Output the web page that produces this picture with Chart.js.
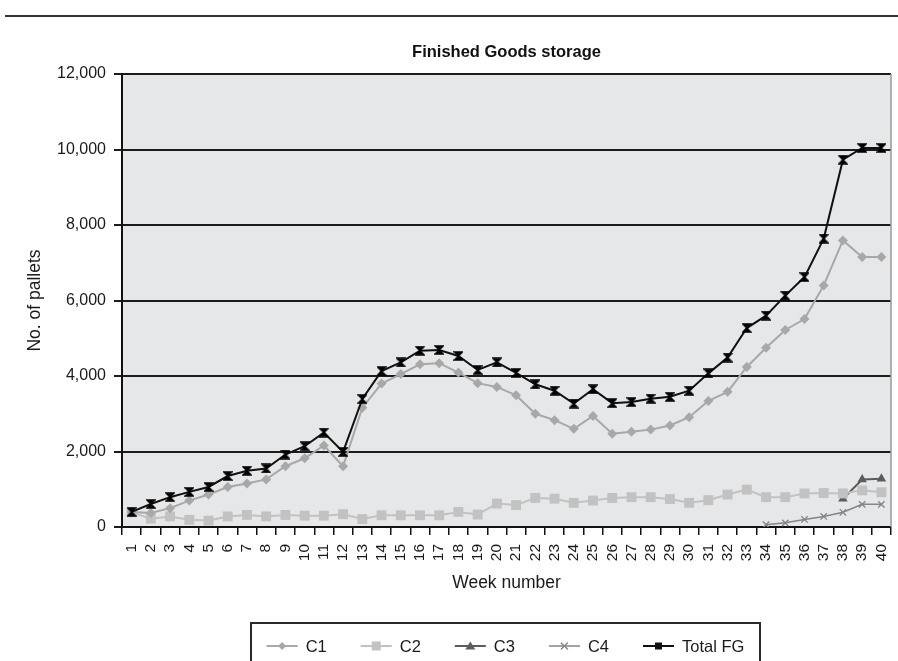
<!DOCTYPE html>
<html>
<head>
<meta charset="utf-8">
<title>Finished Goods storage</title>
<script src="https://cdn.jsdelivr.net/npm/chart.js@4/dist/chart.umd.min.js"></script>
<style>
  html, body { margin: 0; padding: 0; background: #ffffff; }
  #wrap { position: relative; width: 898px; height: 661px; overflow: hidden; }
  #rule { position: absolute; left: 5px; right: 0; top: 15px; height: 2px; background: #333333; }
  #chart { position: absolute; left: 0; top: 0; }
</style>
</head>
<body>
<div id="wrap">
  <div id="rule"></div>
  <canvas id="chart" width="898" height="661"></canvas>
</div>
<script>
// Week numbers shown on the x axis
const weeks = ['1','2','3','4','5','6','7','8','9','10','11','12','13','14','15','16','17','18','19','20',
               '21','22','23','24','25','26','27','28','29','30','31','32','33','34','35','36','37','38','39','40'];

// Pallets in storage per customer group, by week
const c1 = [400, 370, 500, 700, 860, 1060, 1150, 1260, 1610, 1820, 2160, 1610, 3160, 3800, 4050, 4310, 4340, 4090, 3810, 3710,
            3490, 3000, 2830, 2600, 2940, 2470, 2520, 2580, 2690, 2910, 3340, 3580, 4240, 4750, 5220, 5510, 6400, 7590, 7150, 7150];
const c2 = [390, 220, 280, 190, 170, 280, 320, 280, 320, 300, 300, 340, 210, 310, 310, 310, 310, 400, 330, 620,
            580, 770, 750, 640, 700, 770, 790, 790, 740, 640, 710, 860, 990, 790, 790, 890, 900, 890, 970, 920];
const c3 = [null, null, null, null, null, null, null, null, null, null, null, null, null, null, null, null, null, null, null, null,
            null, null, null, null, null, null, null, null, null, null, null, null, null, null, null, null, null, 750, 1260, 1280];
const c4 = [null, null, null, null, null, null, null, null, null, null, null, null, null, null, null, null, null, null, null, null,
            null, null, null, null, null, null, null, null, null, null, null, null, null, 60, 110, 200, 280, 390, 600, 600];
const totalFG = [400, 610, 790, 930, 1060, 1350, 1490, 1550, 1920, 2140, 2500, 1990, 3390, 4130, 4360, 4670, 4690, 4530, 4160, 4360,
                 4080, 3780, 3610, 3270, 3650, 3280, 3310, 3400, 3450, 3610, 4070, 4490, 5270, 5600, 6130, 6620, 7640, 9730, 10040, 10040];

// Y axis tick values
const yTicks = [0, 2000, 4000, 6000, 8000, 10000, 12000];

const FONT = '"Liberation Sans", Arial, Helvetica, sans-serif';

// Hourglass marker used for the Total FG line
function hourglassMarker(size) {
  const c = document.createElement('canvas');
  c.width = size; c.height = size;
  const g = c.getContext('2d');
  g.fillStyle = '#000'; g.strokeStyle = '#000'; g.lineWidth = 1.5;
  g.beginPath();
  g.moveTo(1, 1); g.lineTo(size - 1, 1); g.lineTo(1, size - 1); g.lineTo(size - 1, size - 1); g.closePath();
  g.fill(); g.stroke();
  return c;
}

const series = [
  { label: 'C1', data: c1, color: '#a8a8a8', width: 2, style: 'rectRot', radius: 5, legendMark: 'diamond', order: 1 },
  { label: 'C2', data: c2, color: '#c2c2c2', width: 2, style: 'rect', radius: 7, legendMark: 'square', order: 2 },
  { label: 'C3', data: c3, color: '#5c5c5c', width: 2, style: 'triangle', radius: 5.5, legendMark: 'triangle', order: 3 },
  { label: 'C4', data: c4, color: '#858585', width: 1.5, style: 'crossRot', radius: 4.5, legendMark: 'cross', order: 4 },
  { label: 'Total FG', data: totalFG, color: '#111111', width: 2, style: hourglassMarker(10), radius: 5, legendMark: 'blacksquare', order: 0 }
];

// Grey plotting area plus its light right-hand frame
const plotBackground = {
  id: 'plotBackground',
  beforeDraw(chart) {
    const { ctx, chartArea: a } = chart;
    ctx.save();
    ctx.fillStyle = '#e6e7e9';
    ctx.fillRect(a.left, a.top, a.right - a.left, a.bottom - a.top);
    ctx.restore();
  },
  afterDraw(chart) {
    const { ctx, chartArea: a } = chart;
    ctx.save();
    ctx.strokeStyle = '#9a9a9a';
    ctx.lineWidth = 1.5;
    ctx.beginPath();
    ctx.moveTo(a.right, a.top);
    ctx.lineTo(a.right, a.bottom);
    ctx.stroke();
    ctx.restore();
  }
};

// Chart heading centred over the plotting area
const plotTitle = {
  id: 'plotTitle',
  afterDraw(chart, args, opts) {
    const { ctx, chartArea: a } = chart;
    ctx.save();
    ctx.font = 'bold 16.5px ' + FONT;
    ctx.fillStyle = '#111';
    ctx.textAlign = 'center';
    ctx.textBaseline = 'middle';
    ctx.fillText(opts.text, (a.left + a.right) / 2, opts.y);
    ctx.restore();
  }
};

function drawLegendMark(ctx, kind, x, y, color) {
  ctx.save();
  ctx.fillStyle = color; ctx.strokeStyle = color;
  ctx.beginPath();
  if (kind === 'diamond') {
    ctx.moveTo(x, y - 4); ctx.lineTo(x + 4, y); ctx.lineTo(x, y + 4); ctx.lineTo(x - 4, y); ctx.closePath(); ctx.fill();
  } else if (kind === 'square') {
    ctx.fillRect(x - 4.5, y - 4.5, 9, 9);
  } else if (kind === 'triangle') {
    ctx.moveTo(x, y - 4.5); ctx.lineTo(x + 5, y + 3.5); ctx.lineTo(x - 5, y + 3.5); ctx.closePath(); ctx.fill();
  } else if (kind === 'cross') {
    ctx.lineWidth = 1.3;
    ctx.moveTo(x - 3.5, y - 3.5); ctx.lineTo(x + 3.5, y + 3.5);
    ctx.moveTo(x + 3.5, y - 3.5); ctx.lineTo(x - 3.5, y + 3.5);
    ctx.stroke();
  } else if (kind === 'blacksquare') {
    ctx.fillRect(x - 3.5, y - 3.5, 7, 7);
  }
  ctx.restore();
}

// Boxed legend below the axis title: a short line with its marker, then the name
const boxedLegend = {
  id: 'boxedLegend',
  afterDraw(chart, args, opts) {
    const { ctx } = chart;
    const items = chart.data.datasets;
    ctx.save();
    ctx.font = '16.5px ' + FONT;
    const widths = items.map(d => ctx.measureText(d.label).width);
    let total = 0;
    items.forEach((d, i) => { total += opts.glyph + opts.gap + widths[i]; });
    total += opts.itemGap * (items.length - 1);
    const cx = (opts.left + opts.right) / 2;
    let x = cx - total / 2;
    const y = opts.textY;

    ctx.strokeStyle = '#2a2a2a';
    ctx.lineWidth = 2;
    ctx.strokeRect(opts.left, opts.top, opts.right - opts.left, 80);

    items.forEach((d, i) => {
      ctx.strokeStyle = d.borderColor;
      ctx.lineWidth = d.borderWidth;
      ctx.beginPath();
      ctx.moveTo(x, y);
      ctx.lineTo(x + opts.glyph, y);
      ctx.stroke();
      drawLegendMark(ctx, d.legendMark, x + opts.glyph / 2, y, d.borderColor);
      ctx.fillStyle = '#1a1a1a';
      ctx.textAlign = 'left';
      ctx.textBaseline = 'middle';
      ctx.fillText(d.label, x + opts.glyph + opts.gap, y + 1);
      x += opts.glyph + opts.gap + widths[i] + opts.itemGap;
    });
    ctx.restore();
  }
};

new Chart(document.getElementById('chart'), {
  type: 'line',
  data: {
    labels: weeks,
    datasets: series.map(s => ({
      label: s.label,
      data: s.data,
      borderColor: s.color,
      backgroundColor: s.color,
      borderWidth: s.width,
      pointStyle: s.style,
      pointRadius: s.radius,
      pointBorderWidth: s.style === 'crossRot' ? 1.3 : 0,
      pointBorderColor: s.color,
      pointBackgroundColor: s.color,
      tension: 0,
      fill: false,
      spanGaps: false,
      order: s.order,
      legendMark: s.legendMark
    }))
  },
  options: {
    responsive: false,
    animation: false,
    events: [],
    layout: { padding: { left: 0, right: 7, top: 74, bottom: 67 } },
    plugins: {
      legend: { display: false },
      tooltip: { enabled: false },
      title: { display: false },
      plotTitle: { text: 'Finished Goods storage', y: 52 },
      boxedLegend: { left: 251, right: 760, top: 623, textY: 646, glyph: 31, gap: 8, itemGap: 34 }
    },
    scales: {
      x: {
        type: 'category',
        offset: true,
        afterFit(scale) { scale.height = 67; scale.paddingLeft = 0; scale.paddingRight = 0; },
        grid: { offset: true, drawOnChartArea: false, drawTicks: true, tickLength: 8, color: '#111', lineWidth: 1.5 },
        border: { display: true, color: '#111', width: 2 },
        ticks: {
          autoSkip: false, minRotation: 90, maxRotation: 90, padding: 9,
          color: '#1a1a1a', font: { family: FONT, size: 15.5 }
        },
        title: {
          display: true, text: 'Week number', color: '#1a1a1a',
          font: { family: FONT, size: 17.5 }, padding: { top: 0, bottom: 0 }
        }
      },
      y: {
        min: 0, max: 12000,
        afterFit(scale) { scale.width = 122; },
        afterBuildTicks(scale) { scale.ticks = yTicks.map(v => ({ value: v })); },
        grid: { drawOnChartArea: true, drawTicks: true, tickLength: 8, color: '#1c1c1c', lineWidth: 2 },
        border: { display: true, color: '#111', width: 2 },
        ticks: {
          padding: 8, color: '#1a1a1a', font: { family: FONT, size: 16 },
          callback: v => Number(v).toLocaleString('en-US')
        },
        title: {
          display: true, text: 'No. of pallets', color: '#1a1a1a',
          font: { family: FONT, size: 17.5 }, padding: { top: 25, bottom: 0 }
        }
      }
    }
  },
  plugins: [plotBackground, plotTitle, boxedLegend]
});
</script>
</body>
</html>
